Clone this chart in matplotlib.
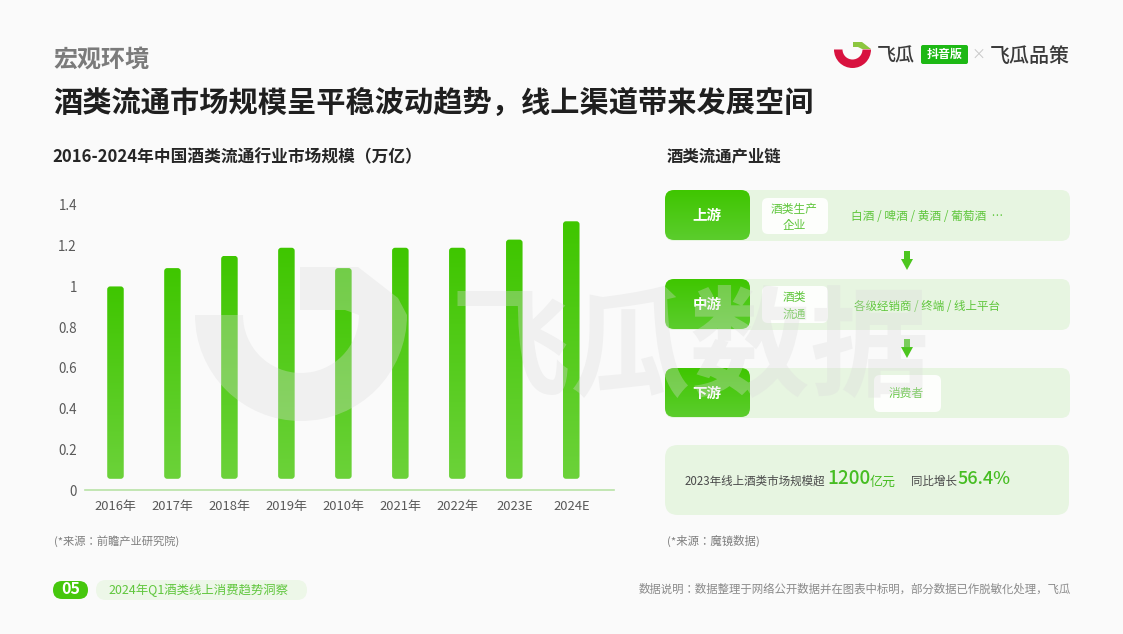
import numpy as np
import matplotlib
matplotlib.use("Agg")
import matplotlib.pyplot as plt
import matplotlib.font_manager as fm
from matplotlib.patches import FancyBboxPatch, Wedge, Polygon
from matplotlib.colors import LinearSegmentedColormap

categories = ["2016年", "2017年", "2018年", "2019年", "2010年", "2021年", "2022年", "2023E", "2024E"]
values = [1.0, 1.09, 1.15, 1.19, 1.09, 1.19, 1.19, 1.23, 1.32]
y_ticks = [0, 0.2, 0.4, 0.6, 0.8, 1, 1.2, 1.4]
y_tick_labels = ["0", "0.2", "0.4", "0.6", "0.8", "1", "1.2", "1.4"]
bar_floor = 0.055

title_small = "宏观环境"
title_main = "酒类流通市场规模呈平稳波动趋势，线上渠道带来发展空间"
chart_title = "2016-2024年中国酒类流通行业市场规模（万亿）"
chain_title = "酒类流通产业链"

avail = {f.name for f in fm.fontManager.ttflist}
FAM = [n for n in ["Noto Sans CJK SC", "Noto Sans CJK JP", "Noto Sans CJK KR", "Noto Sans CJK TC", "Noto Sans CJK HK"] if n in avail] + ["DejaVu Sans"]
plt.rcParams["font.family"] = FAM

W, H = 1123, 634
fig = plt.figure(figsize=(W / 100, H / 100), dpi=100, facecolor="#fafafa")

TXT = "#5fc63c"

def px(size):
    return size * 0.72

bg = fig.add_axes([0, 0, 1, 1], zorder=0)
bg.set_xlim(0, W); bg.set_ylim(H, 0); bg.axis("off")

ax = fig.add_axes([85 / W, 1 - 490 / H, (614 - 85) / W, 285 / H], zorder=1)
ax.patch.set_alpha(0)
ax.set_xlim(-0.535, 8.75)
ax.set_ylim(0, 1.4)
for s in ["top", "right", "left"]:
    ax.spines[s].set_visible(False)
ax.spines["bottom"].set_color("#b9e3a6")
ax.spines["bottom"].set_linewidth(1.2)
ax.set_yticks(y_ticks, y_tick_labels, fontsize=px(13.5), color="#595959")
ax.set_xticks(range(len(categories)), categories, fontsize=px(13), color="#595959")
ax.tick_params(length=0)
ax.tick_params(axis="y", pad=5.8)
ax.tick_params(axis="x", pad=7)

cmap = LinearSegmentedColormap.from_list("g", ["#6cd23a", "#3fc600"])
grad = np.linspace(0, 1, 256).reshape(-1, 1)
bars = ax.bar(range(len(values)), np.array(values) - bar_floor, bottom=bar_floor, width=0.29, color="none")
for b in bars:
    x0, y0, w, h = b.get_x(), b.get_y(), b.get_width(), b.get_height()
    p0 = ax.transData.transform((x0, y0)); p1 = ax.transData.transform((x0 + w, y0 + h))
    clip = FancyBboxPatch((p0[0] + 3, p0[1] + 3), p1[0] - p0[0] - 6, p1[1] - p0[1] - 6,
                          boxstyle="round,pad=3,rounding_size=3", transform=None, fc="none", ec="none")
    ax.add_patch(clip)
    im = ax.imshow(grad, extent=(x0, x0 + w, y0, y0 + h), origin="lower", cmap=cmap, aspect="auto", zorder=2)
    im.set_clip_path(clip)
ax.set_xlim(-0.535, 8.75); ax.set_ylim(0, 1.4)

rows = [(190, 241, "上游"), (279, 330, "中游"), (368, 418, "下游")]
tile_cmap = LinearSegmentedColormap.from_list("t", ["#3fc600", "#5ccd2e"])
for y0, y1, name in rows:
    bg.add_patch(FancyBboxPatch((668, y0 + 3), 399, y1 - y0 - 6, boxstyle="round,pad=3,rounding_size=9",
                                fc="#e7f5e1", ec="none"))
    tile = FancyBboxPatch((668, y0 + 3), 79, y1 - y0 - 7, boxstyle="round,pad=3,rounding_size=9",
                          fc="none", ec="none")
    bg.add_patch(tile)
    im = bg.imshow(grad, extent=(665, 750, y1, y0), origin="upper", cmap=tile_cmap, aspect="auto", zorder=1.5)
    im.set_clip_path(tile)
    bg.text(707, (y0 + y1) / 2 + 0.5, name, color="white", fontsize=px(14.5), fontweight="bold",
            ha="center", va="center", zorder=3)
bg.set_xlim(0, W); bg.set_ylim(H, 0)

for x, y, w, h in [(762, 198, 66, 36), (762, 286, 66, 37), (874, 375, 67, 37)]:
    bg.add_patch(FancyBboxPatch((x + 5, y + 5), w - 10, h - 10, boxstyle="round,pad=5,rounding_size=6",
                                fc="#ffffff", ec="none", alpha=0.92, zorder=2))

def t(x, y, s, size, color=TXT, ha="center", weight="normal"):
    return bg.text(x, y, s, fontsize=px(size), color=color, ha=ha, va="center", fontweight=weight, zorder=4)

t(794, 209, "酒类生产", 11.7); t(794, 225, "企业", 11.7)
t(794, 297, "酒类", 11.7); t(794, 314, "流通", 11.7)
t(906, 394, "消费者", 11.7)
t(927, 217, "白酒 / 啤酒 / 黄酒 / 葡萄酒  …", 11.7)
t(927, 306, "各级经销商 / 终端 / 线上平台", 11.5)

for ytop in (251, 339):
    bg.add_patch(Polygon([(904, ytop), (910, ytop), (910, ytop + 8), (913, ytop + 8), (907, ytop + 19),
                          (901, ytop + 8), (904, ytop + 8)], fc="#4cc61e", ec="none"))

bg.add_patch(FancyBboxPatch((677, 457), 380, 46, boxstyle="round,pad=12,rounding_size=13", fc="#e7f5e1", ec="none"))
t(685, 481, "2023年线上酒类市场规模超", 11.5, "#4a4a4a", "left")
t(827, 479, "1200", 19, "#46bd22", "left", "medium")
t(870, 482, "亿元", 13, "#46bd22", "left")
t(911, 481, "同比增长", 11.5, "#4a4a4a", "left")
t(958, 479, "56.4%", 18, "#46bd22", "left", "medium")

t(53, 60, title_small, 24, "#7b7b7b", "left", "bold")
t(53, 103, title_main, 29.2, "#1f1f1f", "left", "bold")
t(52, 157, chart_title, 16.7, "#262626", "left", "bold")
t(667, 157, chain_title, 16.4, "#262626", "left", "bold")
t(54, 541, "(*来源：前瞻产业研究院)", 11.3, "#7f7f7f", "left")
t(667, 541, "(*来源：魔镜数据)", 11.4, "#7f7f7f", "left")
t(1071, 589, "数据说明：数据整理于网络公开数据并在图表中标明，部分数据已作脱敏化处理，飞瓜", 11.4, "#8a8a8a", "right")

bg.add_patch(FancyBboxPatch((104, 588), 195, 4, boxstyle="round,pad=8,rounding_size=10", fc="#edf7e8", ec="none"))
t(198, 590, "2024年Q1酒类线上消费趋势洞察", 12.4, TXT)
bg.add_patch(FancyBboxPatch((59, 587), 23, 6, boxstyle="round,pad=6,rounding_size=9", fc="#46c70d", ec="none"))
t(70.5, 589.5, "05", 16, "white", "center", "bold")

bg.add_patch(Wedge((852.5, 49.5), 18.5, 0, 180, width=8.5, fc="#d8123f", ec="none"))
bg.add_patch(Polygon([(853, 42), (862, 42), (871, 49), (862, 49), (858, 47), (853, 47)], fc="#8cc63f", ec="none"))
t(877, 56, "飞瓜", 19, "#3a3a3a", "left", "medium")
bg.add_patch(FancyBboxPatch((923, 47), 43, 15, boxstyle="round,pad=2,rounding_size=2", fc="#1db814", ec="none"))
t(944.5, 54.5, "抖音版", 12, "white", "center", "bold")
t(979, 55, "×", 14, "#c8c8c8")
t(990, 55.5, "飞瓜品策", 20, "#3a3a3a", "left", "medium")

wm = fig.add_axes([0, 0, 1, 1], zorder=5)
wm.set_xlim(0, W); wm.set_ylim(H, 0); wm.axis("off")
wm_c = "#dcdcdc"
wm_a = 0.33
wm.add_patch(Wedge((301, 315), 106, 0, 180, width=48, fc=wm_c, ec="none", alpha=wm_a))
wm.add_patch(Polygon([(300, 267), (358, 267), (398, 298), (407, 315), (359, 315), (345, 310), (300, 310)],
                     fc=wm_c, ec="none", alpha=wm_a))
wm.text(690, 352, "飞瓜数据", fontsize=px(120), color=wm_c, alpha=wm_a, ha="center", va="center", fontweight="bold")

fig.savefig("out.png", dpi=100, facecolor=fig.get_facecolor())
